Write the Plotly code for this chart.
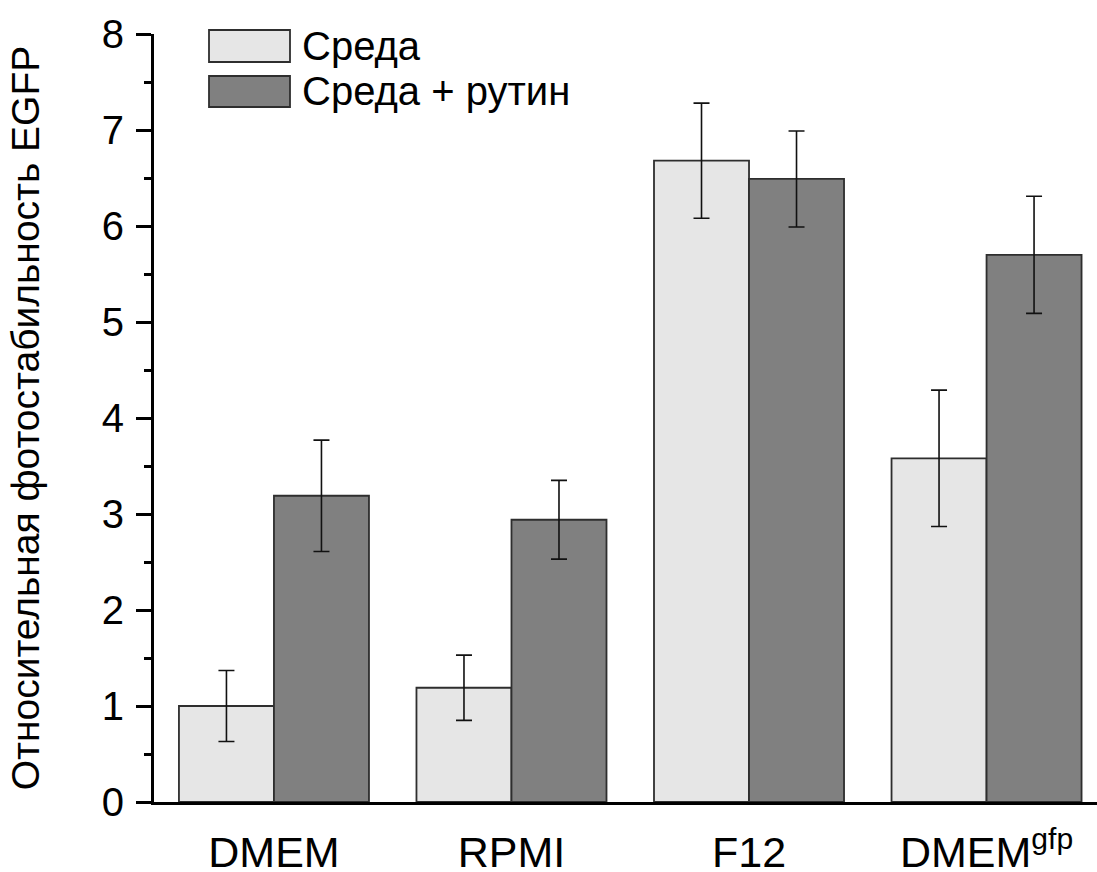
import plotly.graph_objects as go

categories = ["DMEM", "RPMI", "F12", "DMEM<sup>gfp</sup>"]
medium = [1.00, 1.19, 6.68, 3.58]
medium_err = [0.37, 0.34, 0.60, 0.71]
rutin = [3.19, 2.94, 6.49, 5.70]
rutin_err = [0.58, 0.41, 0.50, 0.61]
y_ticks = [0, 1, 2, 3, 4, 5, 6, 7, 8]
legend_names = ["Среда", "Среда + рутин"]
y_title = "Относительная фотостабильность EGFP"

FONT = "Arial, 'Liberation Sans', sans-serif"
LIGHT = "#e6e6e6"
DARK = "#808080"
EDGE = "#2e2e2e"

W, H = 1097, 872
L, R, T, B = 154, 0, 34, 70
x = list(range(len(categories)))

fig = go.Figure()
for vals, errs, col in [(medium, medium_err, LIGHT), (rutin, rutin_err, DARK)]:
    fig.add_trace(go.Bar(
        x=x, y=vals,
        marker=dict(color=col, line=dict(color=EDGE, width=1.8)),
        error_y=dict(type="data", array=errs, visible=True, color="#111111", thickness=1.6, width=8),
        showlegend=False,
    ))

fig.update_layout(
    width=W, height=H,
    margin=dict(l=L, r=R, t=T, b=B, autoexpand=False),
    paper_bgcolor="white", plot_bgcolor="white",
    barmode="group", bargap=0.2, bargroupgap=0.0,
    font=dict(family=FONT, color="black", size=40),
)
fig.update_xaxes(
    range=[-0.505, 3.465], tickmode="array", tickvals=x, ticktext=categories,
    showline=True, linecolor="black", linewidth=3, ticks="", showgrid=False,
    zeroline=False, tickfont=dict(size=43), ticklabelstandoff=10,
)
fig.update_yaxes(
    range=[0, 8], tickmode="array", tickvals=y_ticks,
    showline=True, linecolor="black", linewidth=3, ticks="outside",
    ticklen=15, tickwidth=3, tickcolor="black", showgrid=False, zeroline=False,
    minor=dict(dtick=0.5, ticks="outside", ticklen=7, tickwidth=3, tickcolor="black", showgrid=False),
    tickfont=dict(size=40), ticklabelstandoff=4,
    title=dict(text=y_title, font=dict(size=39), standoff=51),
    automargin=False,
)

# custom legend (pixel positions converted to paper coords)
pw, ph = W - L - R, H - T - B
def px(xp):
    return (xp - L) / pw
def py(yp):
    return (H - B - yp) / ph

swatches = [(30, 62), (76, 107)]
for (y0, y1), col, name in zip(swatches, [LIGHT, DARK], legend_names):
    fig.add_shape(type="rect", xref="paper", yref="paper",
                  x0=px(209), x1=px(290), y0=py(y1), y1=py(y0),
                  fillcolor=col, line=dict(color=EDGE, width=1.8))
    fig.add_annotation(xref="paper", yref="paper", x=px(300), y=py((y0 + y1) / 2),
                       text=name, showarrow=False, xanchor="left", yanchor="middle",
                       font=dict(size=40, family=FONT, color="black"))

fig.write_html("out.html")
